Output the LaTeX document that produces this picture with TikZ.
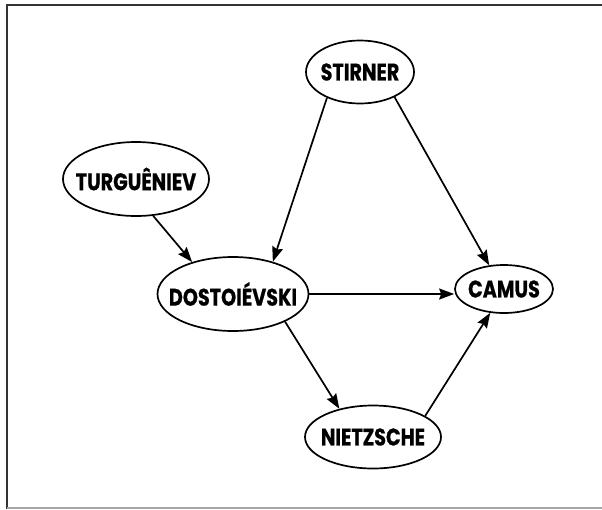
\documentclass[tikz,border=0pt]{standalone}
\usepackage{fontspec}
\setmainfont{Poppins}[FakeStretch=0.8, BoldFeatures={FakeBold=0.6}]
\usetikzlibrary{shapes.geometric,arrows.meta}
\tikzset{
  ten/.style={ellipse, draw, line width=1.7pt, inner xsep=-25pt, inner ysep=0pt,
    font=\fontsize{24}{24}\selectfont\bfseries},
  muiten/.style={->, line width=1.7pt}
}
\begin{document}
\begin{tikzpicture}[x=1pt, y=-1pt, >={Stealth[length=15pt,width=11pt,inset=2pt]}]
			\useasboundingbox (0,0) rectangle (602,509);
			% Khung ngoài
			\draw[line width=2pt, black!80] (7,509) -- (7,5) -- (602,5);
			\draw[line width=1.5pt, black!35] (7,508) -- (602,508);
			% Các nút
			\node[ten, minimum width=108pt, minimum height=63pt] (stirner) at (360,72) {STIRNER};
			\node[ten, minimum width=146pt, minimum height=74pt] (turgueniev) at (136,179) {TURGUÊNIEV};
			\node[ten, minimum width=151pt, minimum height=74pt] (dostoievski) at (233,294) {DOSTOIÉVSKI};
			\node[ten, minimum width=98pt, minimum height=48pt] (camus) at (504,289) {CAMUS};
			\node[ten, minimum width=136pt, minimum height=63pt] (nietzsche) at (373,437) {NIETZSCHE};
			% Các mũi tên
			\draw[muiten] (turgueniev.-65) -- (dostoievski.142);
			\draw[muiten] (stirner.-142) -- (dostoievski.39);
			\draw[muiten] (stirner.-36) -- (camus.122);
			\draw[muiten] (dostoievski.east) -- (dostoievski.east -| camus.west);
			\draw[muiten] (dostoievski.-28) -- (nietzsche.140);
			\draw[muiten] (nietzsche.22) -- (camus.-120);
		\end{tikzpicture}
\end{document}
